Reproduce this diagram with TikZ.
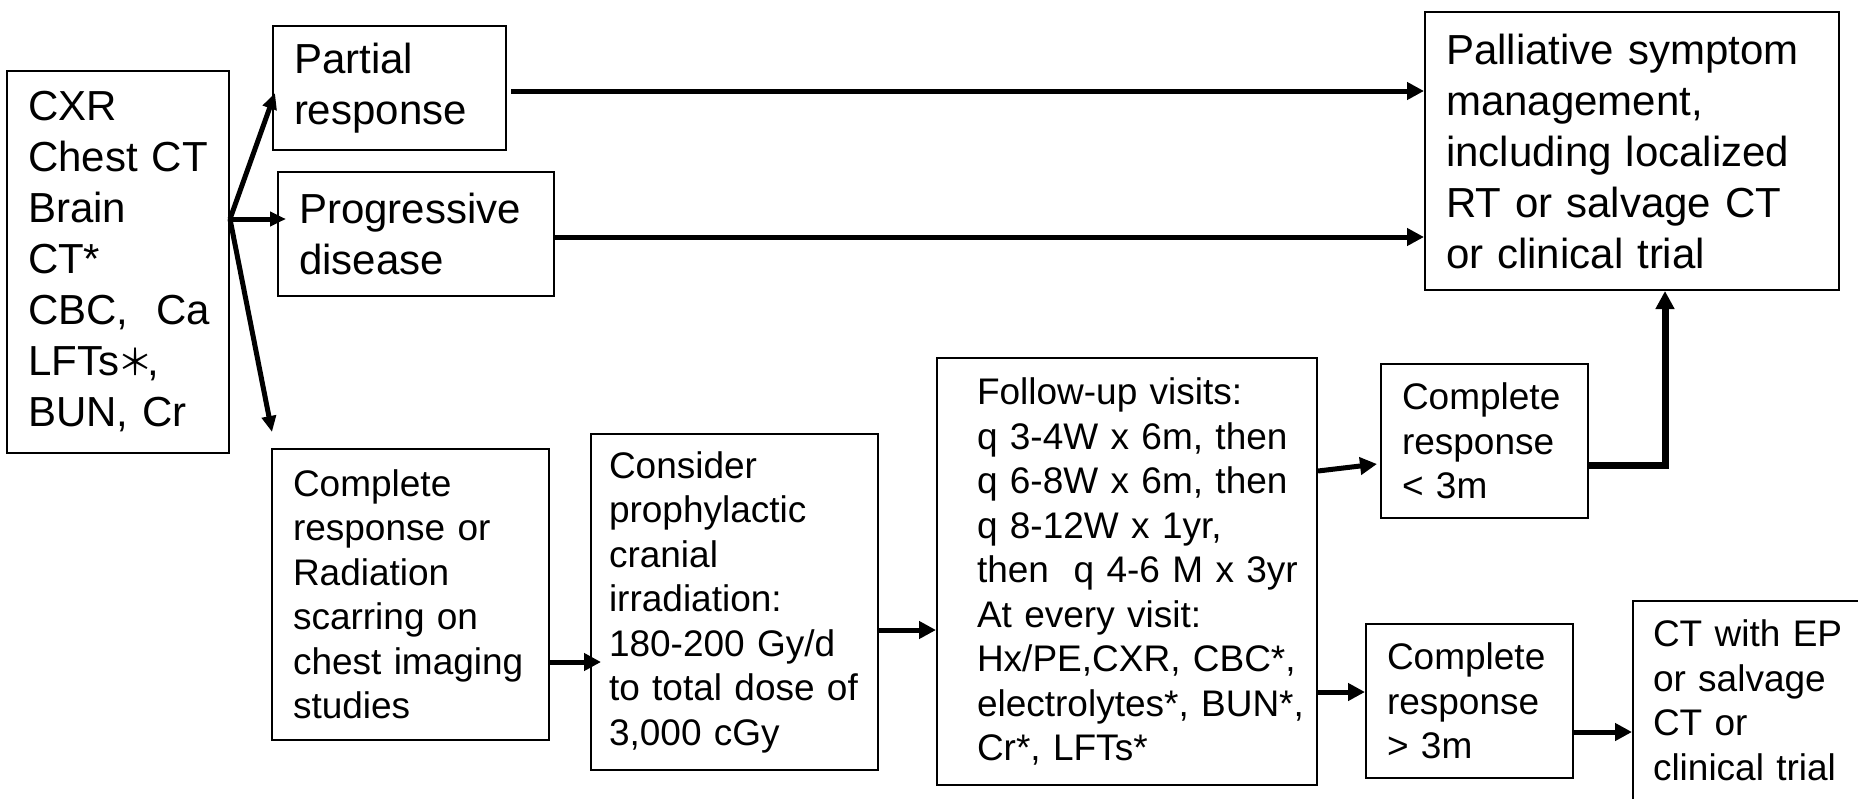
\documentclass[tikz,border=0pt]{standalone}
\usepackage{fontspec}
\setmainfont{Liberation Sans}
\newfontfamily\cjkfont{Noto Sans CJK SC}
\usetikzlibrary{arrows.meta,calc}
\begin{document}
\begin{tikzpicture}[x=0.5pt,y=-0.5pt,
  box/.style 2 args={draw, line width=1pt, rectangle, inner xsep=0pt, inner ysep=0pt,
    align=left, text width=#1, minimum height=#2},
  inset/.style={execute at begin node={\leftskip=#1\relax}},
  topfont/.style={font=\fontsize{21pt}{25.5pt}\selectfont},
  lowfont/.style={font=\fontsize{18.5pt}{22.25pt}\selectfont},
  conn/.style={line width=2.5pt, -{Triangle[length=8.5pt,width=8.5pt]}},
  fanconn/.style={line width=2.5pt, -{Triangle[length=8pt,width=7pt]}},
  elbow/.style={line width=3.5pt, -{Triangle[length=9pt,width=9pt]}},
]
\clip (0,0) rectangle (1858,798);

% upper row
\node[box={111pt}{191pt}, topfont, inset=10.5pt] (tests) at (118,262)
  {CXR\\Chest CT\\Brain\\CT*\\CBC,~~Ca\\LFTs\hspace{-1pt}{\cjkfont\fontsize{18pt}{25.5pt}\selectfont ＊}\hspace{-3pt},\\BUN, Cr};
\node[box={116.5pt}{62pt}, topfont, inset=10.5pt] (pr) at (389.5,88)
  {Partial\\response};
\node[box={138pt}{62pt}, topfont, inset=10.5pt] (pd) at (416,234)
  {Progressive\\disease};
\node[box={207pt}{139pt}, topfont, inset=10.5pt] (pal) at (1632,151)
  {Palliative symptom\\management,\\including localized\\RT or salvage CT\\or clinical trial};

% lower row
\node[box={138.5pt}{145.5pt}, lowfont, inset=10.5pt] (cr) at (410.5,594.5)
  {Complete\\response or\\Radiation\\scarring on\\chest imaging\\studies};
\node[box={143.5pt}{168pt}, lowfont, inset=9pt] (pci) at (734.5,602)
  {Consider\\prophylactic\\cranial\\irradiation:\\180-200 Gy/d\\to total dose of\\3,000 cGy};
\node[box={190pt}{213.5pt}, lowfont, inset=20pt] (fu) at (1127,571.5)
  {Follow-up visits:\\q 3-4W x 6m, then\\q 6-8W x 6m, then\\q 8-12W x 1yr,\\then~~q 4-6 M x 3yr\\At every visit:\\Hx/PE,CXR, CBC*,\\electrolytes*, BUN*,\\Cr*, LFTs*};
\node[box={103.5pt}{77pt}, lowfont, inset=10.5pt] (lt) at (1484.5,441)
  {Complete\\response\\< 3m};
\node[box={103.5pt}{77pt}, lowfont, inset=10.5pt] (gt) at (1469.5,701)
  {Complete\\response\\> 3m};
\node[box={114.5pt}{99.5pt}, lowfont, inset=10pt] (ct) at (1747.5,700.5)
  {CT with EP\\or salvage\\CT or\\clinical trial};

% branching from the work-up box
\coordinate (fan) at (tests.east |- 0,219);
\draw[fanconn] (fan) -- ($(pr.west)+(1.5pt,-2.5pt)$);
\draw[fanconn] (fan) -- ($(fan -| pd.west)+(4.5pt,0)$);
\draw[fanconn] (fan) -- ($(cr.north west)+(0.5pt,8pt)$);

% to palliative care
\draw[conn] ($(pr.east |- 0,91)+(2pt,0)$) -- (pal.west |- 0,91);
\draw[conn] (pd.east |- 0,237) -- (pal.west |- 0,237);

% lower chain
\draw[conn] (cr.east |- 0,662) -- ($(pci.west |- 0,662)+(5.5pt,0)$);
\draw[conn] (pci.east |- 0,630) -- (fu.west |- 0,630);
\draw[conn] (fu.east |- 0,471) -- ($(lt.west |- 0,464)+(-1.5pt,0)$);
\draw[conn] (fu.east |- 0,692) -- (gt.west |- 0,692);
\draw[conn] (gt.east |- 0,732) -- (ct.west |- 0,732);
\draw[elbow] (lt.east |- 0,465) -| (pal.south -| 1665,0);
\end{tikzpicture}
\end{document}
